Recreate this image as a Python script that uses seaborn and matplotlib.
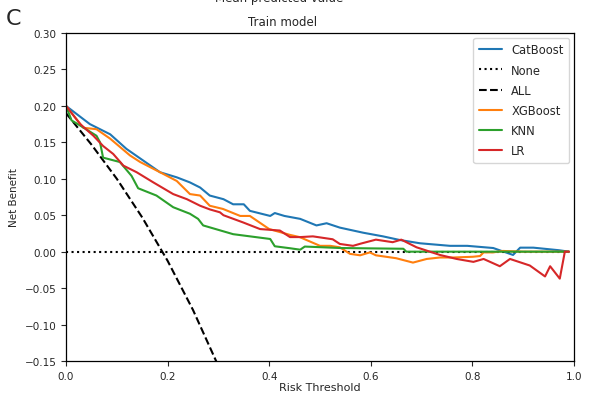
import matplotlib
matplotlib.use("Agg")
import matplotlib.pyplot as plt
import seaborn as sns
import pandas as pd

# ---- data ----
cat_t = [0, 0.047, 0.087, 0.119, 0.152, 0.185, 0.218, 0.244, 0.264, 0.283, 0.31, 0.329, 0.35, 0.362,
         0.402, 0.411, 0.43, 0.461, 0.493, 0.513, 0.539, 0.585, 0.624, 0.657, 0.697, 0.756, 0.79,
         0.841, 0.88, 0.894, 0.92, 0.97, 0.99]
cat_v = [0.200, 0.175, 0.161, 0.141, 0.125, 0.109, 0.102, 0.095, 0.088, 0.077, 0.072, 0.065, 0.065, 0.056,
         0.049, 0.053, 0.049, 0.045, 0.036, 0.039, 0.033, 0.026, 0.021, 0.016, 0.0115, 0.008, 0.008,
         0.005, -0.0045, 0.0055, 0.0055, 0.002, 0.0]

xgb_t = [0, 0.034, 0.06, 0.087, 0.126, 0.146, 0.185, 0.218, 0.244, 0.264, 0.283, 0.309, 0.343, 0.362,
         0.40, 0.441, 0.46, 0.5, 0.52, 0.539, 0.559, 0.579, 0.598, 0.61, 0.65, 0.683, 0.71, 0.736,
         0.762, 0.801, 0.815, 0.822, 0.841, 0.86, 0.9, 0.99]
xgb_v = [0.200, 0.170, 0.168, 0.155, 0.132, 0.123, 0.109, 0.097, 0.079, 0.077, 0.063, 0.0586, 0.049, 0.049,
         0.031, 0.023, 0.020, 0.008, 0.008, 0.006, -0.003, -0.005, -0.001, -0.005, -0.009, -0.015, -0.010, -0.008,
         -0.008, -0.007, -0.006, -0.001, -0.001, 0.001, 0.0, 0.0]

knn_t = [0, 0.011, 0.028, 0.06, 0.067, 0.073, 0.106, 0.129, 0.142, 0.178, 0.211, 0.244, 0.26, 0.27,
         0.329, 0.402, 0.411, 0.441, 0.461, 0.47, 0.506, 0.54, 0.664, 0.67, 0.99]
knn_v = [0.200, 0.18, 0.173, 0.159, 0.15, 0.129, 0.123, 0.104, 0.087, 0.077, 0.061, 0.052, 0.045, 0.036,
         0.024, 0.0174, 0.0074, 0.0047, 0.0027, 0.007, 0.006, 0.005, 0.004, 0.0, 0.0]

lr_t = [0, 0.028, 0.054, 0.073, 0.093, 0.113, 0.139, 0.172, 0.211, 0.238, 0.264, 0.283, 0.303, 0.31,
        0.349, 0.382, 0.421, 0.441, 0.461, 0.486, 0.525, 0.539, 0.565, 0.58, 0.61, 0.643, 0.66, 0.69,
        0.736, 0.769, 0.802, 0.822, 0.854, 0.874, 0.913, 0.943, 0.953, 0.972, 0.982, 0.99]
lr_v = [0.200, 0.175, 0.159, 0.145, 0.134, 0.118, 0.109, 0.095, 0.079, 0.072, 0.063, 0.058, 0.054, 0.050,
        0.040, 0.031, 0.029, 0.020, 0.020, 0.021, 0.017, 0.0106, 0.008, 0.011, 0.0165, 0.013, 0.0165, 0.006,
        -0.0045, -0.010, -0.014, -0.010, -0.020, -0.010, -0.019, -0.034, -0.020, -0.037, 0.0, 0.0]

none_t = [0, 0.99]
none_v = [0.0, 0.0]

all_t = [0, 0.05, 0.1, 0.15, 0.2, 0.25, 0.3, 0.35, 0.4]
all_v = [0.19, 0.147, 0.10, 0.047, -0.0125, -0.08, -0.157, -0.246, -0.35]

series = [
    ("CatBoost", cat_t, cat_v, "#1f77b4", "-"),
    ("None", none_t, none_v, "black", ":"),
    ("ALL", all_t, all_v, "black", "--"),
    ("XGBoost", xgb_t, xgb_v, "#ff7f0e", "-"),
    ("KNN", knn_t, knn_v, "#2ca02c", "-"),
    ("LR", lr_t, lr_v, "#d62728", "-"),
]

sns.set_style("ticks")
plt.rcParams['font.family'] = ['DejaVu Sans']

fig = plt.figure(figsize=(5.93, 4.02), dpi=100)
ax = fig.add_axes([66/593, 1-362/402, (574-66)/593, (362-34)/402])

for name, t, v, c, ls in series:
    df = pd.DataFrame({"t": t, "v": v})
    sns.lineplot(data=df, x="t", y="v", ax=ax, color=c, linestyle=ls, linewidth=1.5,
                 label=name, sort=False)

ax.set_xlim(0, 1.0)
ax.set_ylim(-0.15, 0.30)
ax.set_xticks([0, 0.2, 0.4, 0.6, 0.8, 1.0])
ax.set_xticklabels(["0.0", "0.2", "0.4", "0.6", "0.8", "1.0"])
ax.set_yticks([-0.15, -0.10, -0.05, 0.0, 0.05, 0.10, 0.15, 0.20, 0.25, 0.30])
ax.set_yticklabels(["\u22120.15", "\u22120.10", "\u22120.05", "0.00", "0.05", "0.10",
                    "0.15", "0.20", "0.25", "0.30"])
ax.tick_params(labelsize=7.5, length=3.5, width=0.8)
for s in ax.spines.values():
    s.set_color("black")
    s.set_linewidth(0.9)
ax.set_xlabel("Risk Threshold", fontsize=8, labelpad=1)
ax.set_ylabel("Net Benefit", fontsize=7.5)

leg = ax.legend(loc="upper right", fontsize=8.3, frameon=True, handlelength=2.0,
                borderpad=0.5, labelspacing=0.62, borderaxespad=0.4)
leg.get_frame().set_edgecolor("#cccccc")

fig.text(0.47, 1.003, "Mean predicted value", ha="center", va="center", fontsize=8.5)
fig.text(283/593, 1-23/402, "Train model", ha="center", va="center", fontsize=8.5)
fig.text(0.022, 1-19/402, "C", ha="center", va="center", fontsize=16)

fig.savefig("out.png", dpi=100)
